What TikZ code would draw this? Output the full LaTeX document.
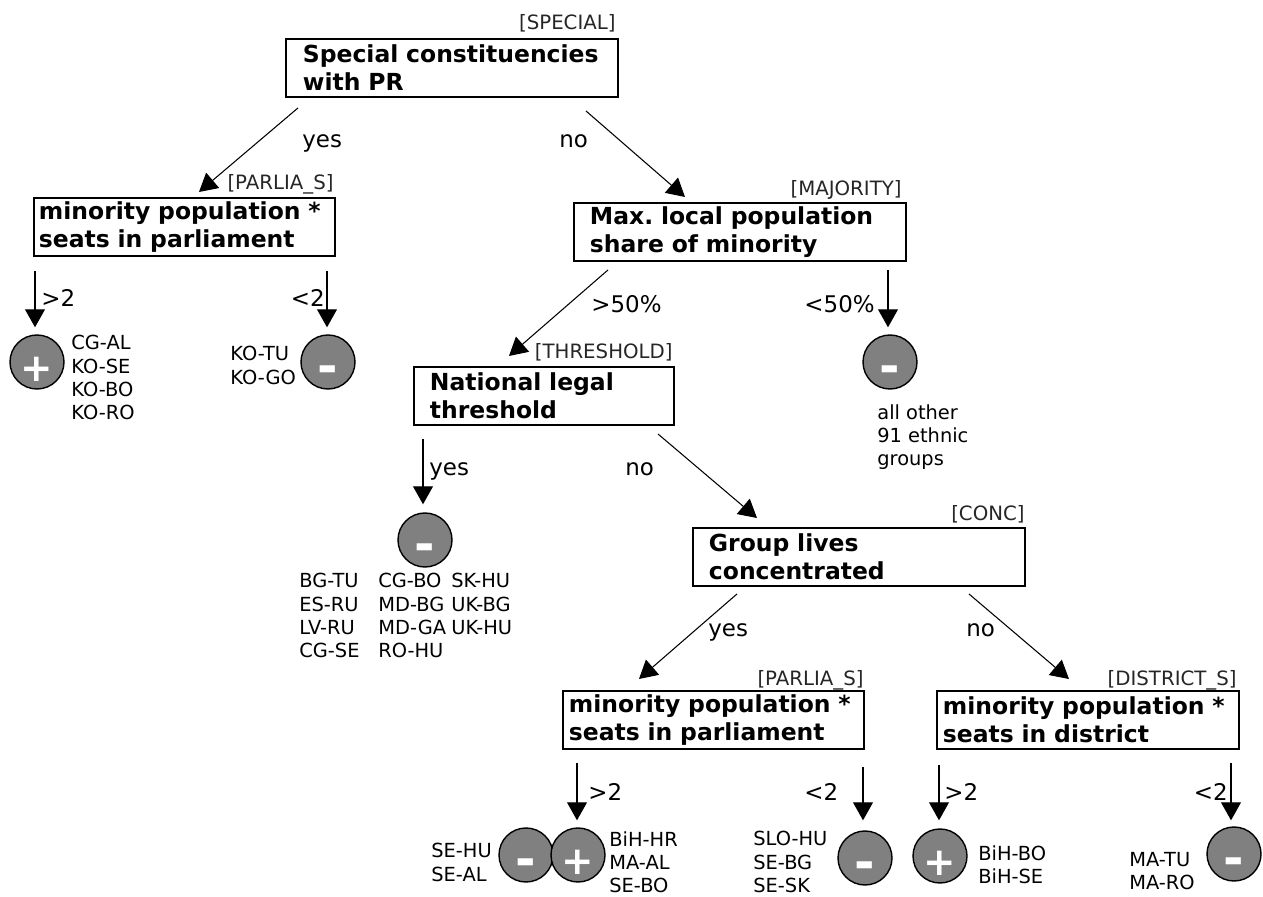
\documentclass[tikz,border=0pt]{standalone}
\usepackage{fontspec}
\setmainfont{DejaVu Sans}
\usetikzlibrary{arrows.meta,calc}
\newdimen\pxu
\pxu=0.5669pt

\begin{document}
\frenchspacing
\begin{tikzpicture}[x=0.5669pt, y=-0.5669pt,
		question/.style={draw, line width=1.1pt, anchor=north west, align=left, minimum height=58\pxu, inner ysep=0pt, font=\fontsize{13.3}{15.9}\selectfont\bfseries},
		tag/.style={anchor=base east, inner sep=0pt, text=black!85, font=\fontsize{11.2}{13}\selectfont},
		cond/.style={anchor=base west, inner sep=0pt, font=\fontsize{13}{15.6}\selectfont},
		result/.style={anchor=north west, align=left, inner sep=0pt, font=\fontsize{11}{13.2}\selectfont},
		outcome/.style={circle, draw, line width=0.8pt, fill=gray, text=white, minimum size=54\pxu, inner sep=0pt, text depth=0pt},
		plus/.style={outcome, text height=22pt, font=\fontsize{22}{22}\selectfont\bfseries},
		minus/.style={outcome, text height=24.7pt, font=\fontsize{28}{28}\selectfont\bfseries},
		arr/.style={-{Triangle[length=10.2pt,width=11.3pt]}, line width=0.6pt}]
		\useasboundingbox (0,0) rectangle (1263,897);
		% questions
		\node [question, minimum width=332\pxu, text width=298\pxu, inner xsep=17\pxu] (special) at (285,38) {Special constituencies\\with PR};
		\node [question, minimum width=301\pxu, text width=291\pxu, inner xsep=5\pxu] (parlA) at (33,197) {minority population *\\seats in parliament};
		\node [question, minimum width=332\pxu, text width=300\pxu, inner xsep=16\pxu] (major) at (573,202) {Max. local population\\share of minority};
		\node [question, minimum width=260\pxu, text width=228\pxu, inner xsep=16\pxu] (thresh) at (413,366) {National legal\\threshold};
		\node [question, minimum width=332\pxu, text width=300\pxu, inner xsep=16\pxu] (conc) at (692,527) {Group lives\\concentrated};
		\node [question, minimum width=301\pxu, text width=289\pxu, inner xsep=6\pxu] (parlB) at (562,690) {minority population *\\seats in parliament};
		\node [question, minimum width=302\pxu, text width=290\pxu, inner xsep=6\pxu] (distr) at (936,690) {minority population *\\seats in district};
		\node [tag] (tSpecial) at ($(special.north east)+(-3,-8)$) {[SPECIAL]};
		\node [tag] (tParlA) at ($(parlA.north east)+(-2,-7)$) {[PARLIA\_S]};
		\node [tag] (tMajor) at ($(major.north east)+(-5,-6)$) {[MAJORITY]};
		\node [tag] (tThresh) at ($(thresh.north east)+(-2,-7)$) {[THRESHOLD]};
		\node [tag] (tConc) at ($(conc.north east)+(-1,-6)$) {[CONC]};
		\node [tag] (tParlB) at ($(parlB.north east)+(-1,-5)$) {[PARLIA\_S]};
		\node [tag] (tDistr) at ($(distr.north east)+(-3,-5)$) {[DISTRICT\_S]};
		% outcomes
		\node [plus] (o1) at (37,362) {+};
		\node [minus] (o2) at (328,362) {-};
		\node [minus] (o3) at (890,362) {-};
		\node [minus] (o4) at (425,540) {-};
		\node [minus] (o5) at (526,855) {-};
		\node [plus] (o6) at (578,855) {+};
		\node [minus] (o7) at (865,858) {-};
		\node [plus] (o8) at (940,856) {+};
		\node [minus] (o9) at (1234,854) {-};
		% branches
		\draw [arr] ($(special.south west)+(13,10)$) -- ($(parlA.north)+(14.5,-5)$);
		\draw [arr] ($(special.south east)+(-33,13)$) -- ($(major.north)+(-55,-5)$);
		\draw [arr] ($(o1.north |- parlA.south)+(-2,14)$) -- ($(o1.north)+(-2,-7)$);
		\draw [arr] ($(o2.north |- parlA.south)+(-1,14)$) -- ($(o2.north)+(-1,-7)$);
		\draw [arr] ($(major.south west)+(35,8)$) -- ($(thresh.north)+(-35,-10)$);
		\draw [arr] ($(o3.north |- major.south)+(-2,8)$) -- ($(o3.north)+(-2,-7)$);
		\draw [arr] ($(o4.north |- thresh.south)+(-2,13)$) -- ($(o4.north)+(-2,-8)$);
		\draw [arr] ($(thresh.south east)+(-17,8)$) -- ($(conc.north)+(-102,-9)$);
		\draw [arr] ($(conc.south west)+(45,7)$) -- ($(parlB.north)+(-74.5,-11)$);
		\draw [arr] ($(conc.south east)+(-57,7)$) -- ($(distr.north)+(-19,-11)$);
		\draw [arr] ($(o6.north |- parlB.south)+(-1,13)$) -- ($(o6.north)+(-1,-7)$);
		\draw [arr] ($(o7.north |- parlB.south)+(-2,17)$) -- ($(o7.north)+(-2,-10)$);
		\draw [arr] ($(o8.north |- distr.south)+(-1,15)$) -- ($(o8.north)+(-1,-8)$);
		\draw [arr] ($(o9.north |- distr.south)+(-3,13)$) -- ($(o9.north)+(-3,-6)$);
		\node [cond] (cYesA) at (302,148) {yes};
		\node [cond] (cNoA) at (559,148) {no};
		\node [cond] (cGtA) at (41,307) {>2};
		\node [cond, anchor=base east] (cLtA) at (325,307) {<2};
		\node [cond] (cGtB) at (591,313) {>50\%};
		\node [cond, anchor=base east] (cLtB) at (875,313) {<50\%};
		\node [cond] (cYesB) at (429,476) {yes};
		\node [cond] (cNoB) at (625,476) {no};
		\node [cond] (cYesC) at (708,636) {yes};
		\node [cond] (cNoC) at (966,636) {no};
		\node [cond] (cGtC) at (588,800) {>2};
		\node [cond] (cLtC) at (804,800) {<2};
		\node [cond] (cGtD) at (944,800) {>2};
		\node [cond, anchor=base east] (cLtD) at (1228,800) {<2};
		% groups
		\node [result] (gA) at (71,335) {CG-AL\\KO-SE\\KO-BO\\KO-RO};
		\node [result] (gB) at (230,346) {KO-TU\\KO-GO};
		\node [result] (gC) at (877,404) {all other\\91 ethnic\\groups};
		\node [result] (gD1) at (299,573) {BG-TU\\ES-RU\\LV-RU\\CG-SE};
		\node [result] (gD2) at (378,573) {CG-BO\\MD-BG\\MD-GA\\RO-HU};
		\node [result] (gD3) at (451,573) {SK-HU\\UK-BG\\UK-HU};
		\node [result] (gE) at (431,843) {SE-HU\\SE-AL};
		\node [result] (gF) at (609,831) {BiH-HR\\MA-AL\\SE-BO};
		\node [result] (gG) at (753,831) {SLO-HU\\SE-BG\\SE-SK};
		\node [result] (gH) at (978,845) {BiH-BO\\BiH-SE};
		\node [result] (gI) at (1129,852) {MA-TU\\MA-RO};
	\end{tikzpicture}
\end{document}
